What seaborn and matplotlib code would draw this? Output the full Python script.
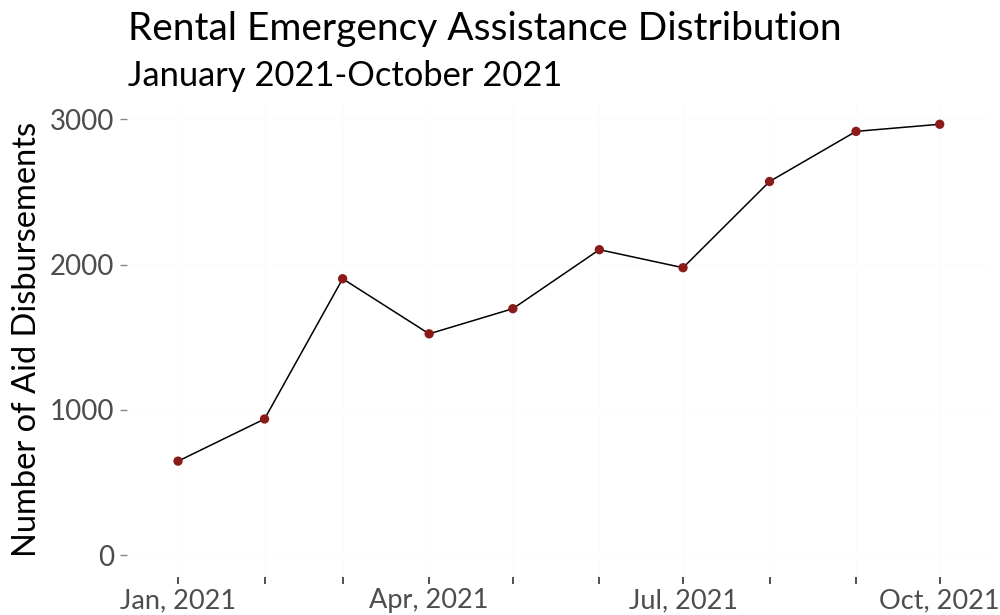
import pandas as pd
import matplotlib
matplotlib.use("Agg")
import matplotlib.pyplot as plt
import seaborn as sns

months = ["2021-01-01", "2021-02-01", "2021-03-01", "2021-04-01", "2021-05-01",
          "2021-06-01", "2021-07-01", "2021-08-01", "2021-09-01", "2021-10-01"]
disbursements = [648, 938, 1903, 1524, 1697, 2103, 1979, 2572, 2917, 2966]
tick_labels = ["Jan, 2021", "", "", "Apr, 2021", "", "", "Jul, 2021", "", "", "Oct, 2021"]

df = pd.DataFrame({"month": pd.to_datetime(months), "n": disbursements})

sns.set_style("white")
plt.rcParams["font.family"] = ["Lato", "DejaVu Sans"]

fig = plt.figure(figsize=(10, 6.15), dpi=100)
ax = fig.add_axes([0.127, 0.062, 0.863, 0.771])

sns.lineplot(data=df, x="month", y="n", color="black", linewidth=1.1, ax=ax)
sns.scatterplot(data=df, x="month", y="n", color="#8b1a1a", s=45, edgecolor="none", zorder=3, ax=ax)

span = df["month"].max() - df["month"].min()
ax.set_xlim(df["month"].min() - span * 0.067, df["month"].max() + span * 0.066)
ymax = max(disbursements)
ax.set_ylim(-0.05 * ymax, ymax * 1.05)

ax.set_xticks(df["month"])
ax.set_xticklabels(tick_labels)
ax.set_yticks([0, 1000, 2000, 3000])
ax.set_yticklabels(["0", "1000", "2000", "3000"])

# near-invisible grid, as in the original
ax.grid(True, color="#fcfcfc", linewidth=1.0)
ax.set_axisbelow(True)

for s in ax.spines.values():
    s.set_visible(False)
ax.tick_params(axis="x", length=5, width=1.2, color="#333333", labelsize=19.5, labelcolor="#4d4d4d", pad=3, bottom=True)
ax.tick_params(axis="y", length=5, width=1.0, color="#888888", labelsize=20, labelcolor="#4d4d4d", pad=4, left=True)

ax.set_xlabel("")
ax.set_ylabel("Number of Aid Disbursements", fontsize=23.5, color="black", labelpad=6)

fig.text(0.128, 0.953, "Rental Emergency Assistance Distribution", fontsize=28, va="center", ha="left", color="black")
fig.text(0.128, 0.877, "January 2021-October 2021", fontsize=24.8, va="center", ha="left", color="black")

fig.savefig("out.png", dpi=100)
